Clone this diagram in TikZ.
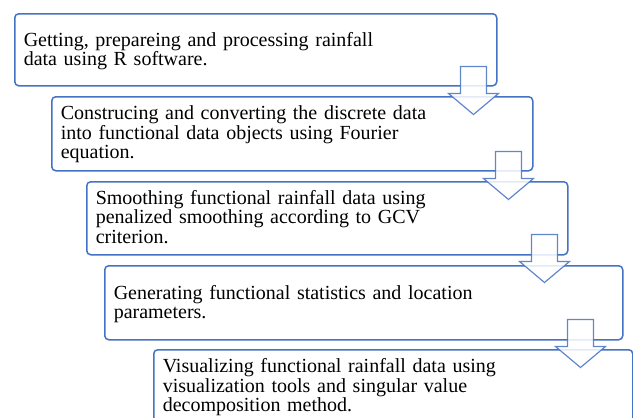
\documentclass[tikz,border=0pt]{standalone}
\usepackage{fontspec}
\setmainfont{Liberation Serif}
\usetikzlibrary{calc}
\definecolor{stepblue}{HTML}{4472C4}
\tikzset{
  x=1pt, y=1pt,
  stagebox/.style={draw=stepblue, line width=1.5pt, rounded corners=4pt,
    anchor=north west, inner xsep=9pt, inner ysep=0pt, align=left,
    font=\fontsize{20}{19.3}\selectfont, text height=13.3pt},
  twolines/.style={text depth=20pt},
  threelines/.style={text depth=41pt},
  pics/downarrow/.style={code={
    \draw[draw=stepblue, draw opacity=0.85, line width=1.2pt, fill=white,
      fill opacity=0.85, line join=miter]
      (-13,0) -- (13,0) -- (13,-27) -- (25,-27) -- (0,-48)
      -- (-25,-27) -- (-13,-27) -- cycle;}}
}
\begin{document}
\begin{tikzpicture}
\useasboundingbox (0,0) rectangle (633,-418);
\clip (0,0) rectangle (633,-418);

% the five stages of the workflow
\node[stagebox, twolines, minimum width=482pt, minimum height=72pt,
  text width=464pt] (s1) at (14,-13)
  {Getting, prepareing and processing rainfall\\data using R software.};
\node[stagebox, threelines, minimum width=481pt, minimum height=74pt,
  text width=463pt] (s2) at (51,-96)
  {Construcing and converting the discrete data\\into functional data objects using Fourier\\equation.};
\node[stagebox, threelines, minimum width=481pt, minimum height=73pt,
  text width=463pt] (s3) at (86,-181)
  {Smoothing functional rainfall data using\\penalized smoothing according to GCV\\criterion.};
\node[stagebox, twolines, minimum width=518pt, minimum height=74pt,
  text width=500pt] (s4) at (104,-265)
  {Generating functional statistics and location\\parameters.};
\node[stagebox, threelines, minimum width=479pt, minimum height=74pt,
  text width=461pt] (s5) at (153,-349)
  {Visualizing functional rainfall data using\\visualization tools and singular value\\decomposition method.};

% block arrows leading from one stage to the next
\pic at ($(s1.south east)+(-24,20)$) {downarrow};
\pic at ($(s2.south east)+(-25,20)$) {downarrow};
\pic at ($(s3.south east)+(-24,21)$) {downarrow};
\pic at ($(s4.south east)+(-43,21)$) {downarrow};
\end{tikzpicture}
\end{document}
